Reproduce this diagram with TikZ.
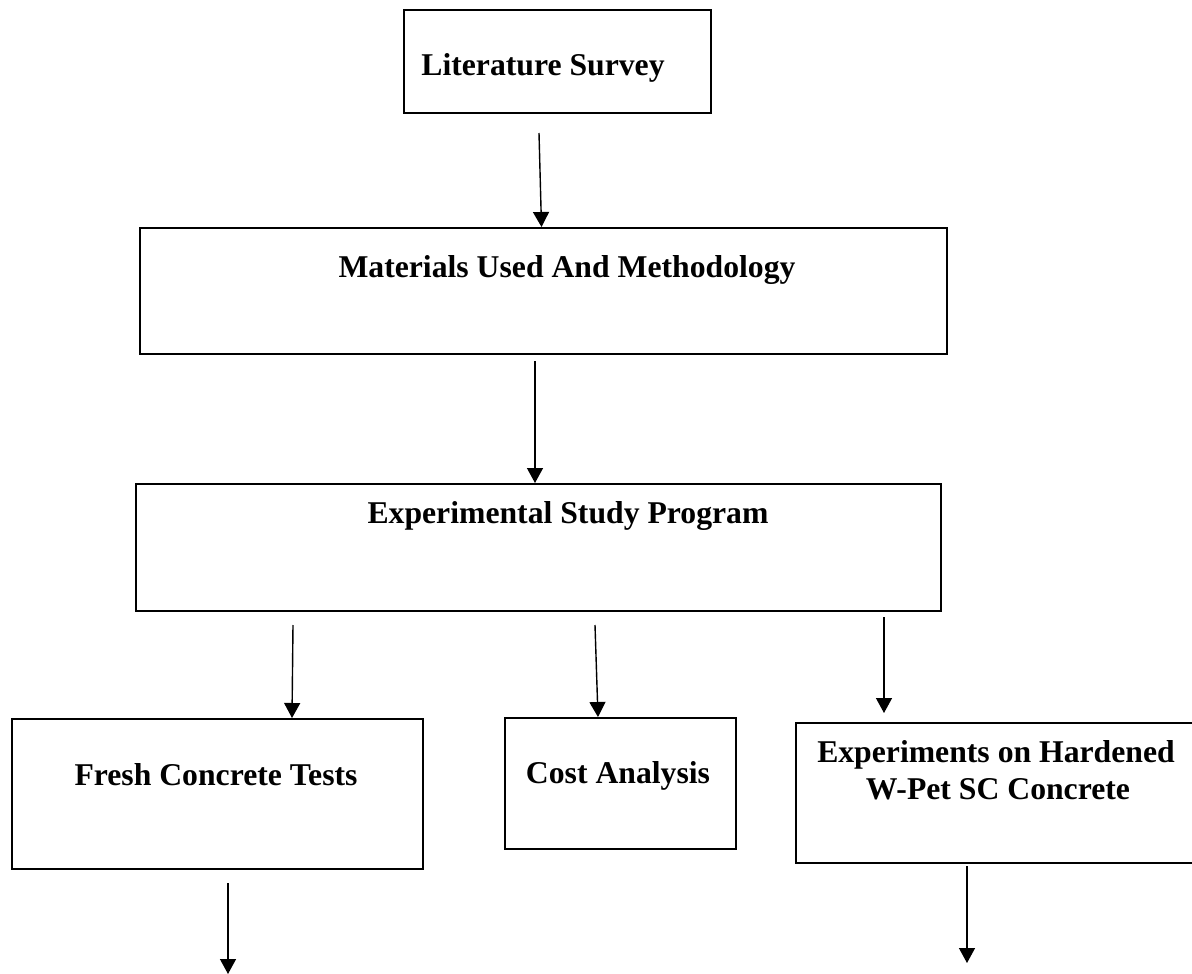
\documentclass[tikz,border=0pt]{standalone}
\usepackage{fontspec}
\setmainfont{Liberation Serif}
\usetikzlibrary{arrows.meta}
\begin{document}
\begin{tikzpicture}[x=1pt,y=-1pt,
  box/.style={draw, line width=2pt, inner sep=0pt, anchor=north west},
  lbl/.style={font=\fontsize{31.7}{37}\selectfont\bfseries, inner sep=0pt, anchor=base},
  arr/.style={line width=1.4pt, -{Triangle[width=16pt,length=15pt]}}]
\fill[white] (0,0) rectangle (1192,974);
\useasboundingbox (0,0) rectangle (1192,974);
\clip (0,0) rectangle (1192,974);
% boxes
\node[box, minimum width=307pt, minimum height=103pt] (lit) at (403,9) {};
\node[box, minimum width=807pt, minimum height=126pt] (mat) at (139,227) {};
\node[box, minimum width=805pt, minimum height=127pt] (exp) at (135,483) {};
\node[box, minimum width=411pt, minimum height=150pt] (fresh) at (11,718) {};
\node[box, minimum width=231pt, minimum height=131pt] (cost) at (504,717) {};
\node[box, minimum width=410pt, minimum height=140pt] (hard) at (795,722) {};
% labels
\node[lbl] (litT) at (543,76) {Literature Survey};
\node[lbl] (matT) at (567,277) {Materials Used And Methodology};
\node[lbl] (expT) at (568,523) {Experimental Study Program};
\node[lbl] (freshT) at (216,785) {Fresh Concrete Tests};
\node[lbl] (costT) at (618,783) {Cost Analysis};
\node[lbl] (hardT1) at (996,762) {Experiments on Hardened};
\node[lbl] (hardT2) at (998,799) {W-Pet SC Concrete};
% arrow start points
\coordinate (s1) at (539,133);
\coordinate (s2) at (535,361);
\coordinate (s3) at (293,625);
\coordinate (s4) at (595,625);
\coordinate (s5) at (884,617);
\coordinate (s6) at (228,883);
\coordinate (s7) at (967,866);
\coordinate (e5) at (884,713);
\coordinate (e6) at (228,974);
\coordinate (e7) at (967,963);
% arrows
\draw[arr] (s1) -- ([xshift=-2pt]mat.north);
\draw[arr] (s2) -- ([xshift=-3.5pt]exp.north);
\draw[arr] (s3) -- ([xshift=74.5pt]fresh.north);
\draw[arr] (s4) -- ([xshift=-22.5pt]cost.north);
\draw[arr] (s5) -- (e5);
\draw[arr] (s6) -- (e6);
\draw[arr] (s7) -- (e7);
\end{tikzpicture}
\end{document}
